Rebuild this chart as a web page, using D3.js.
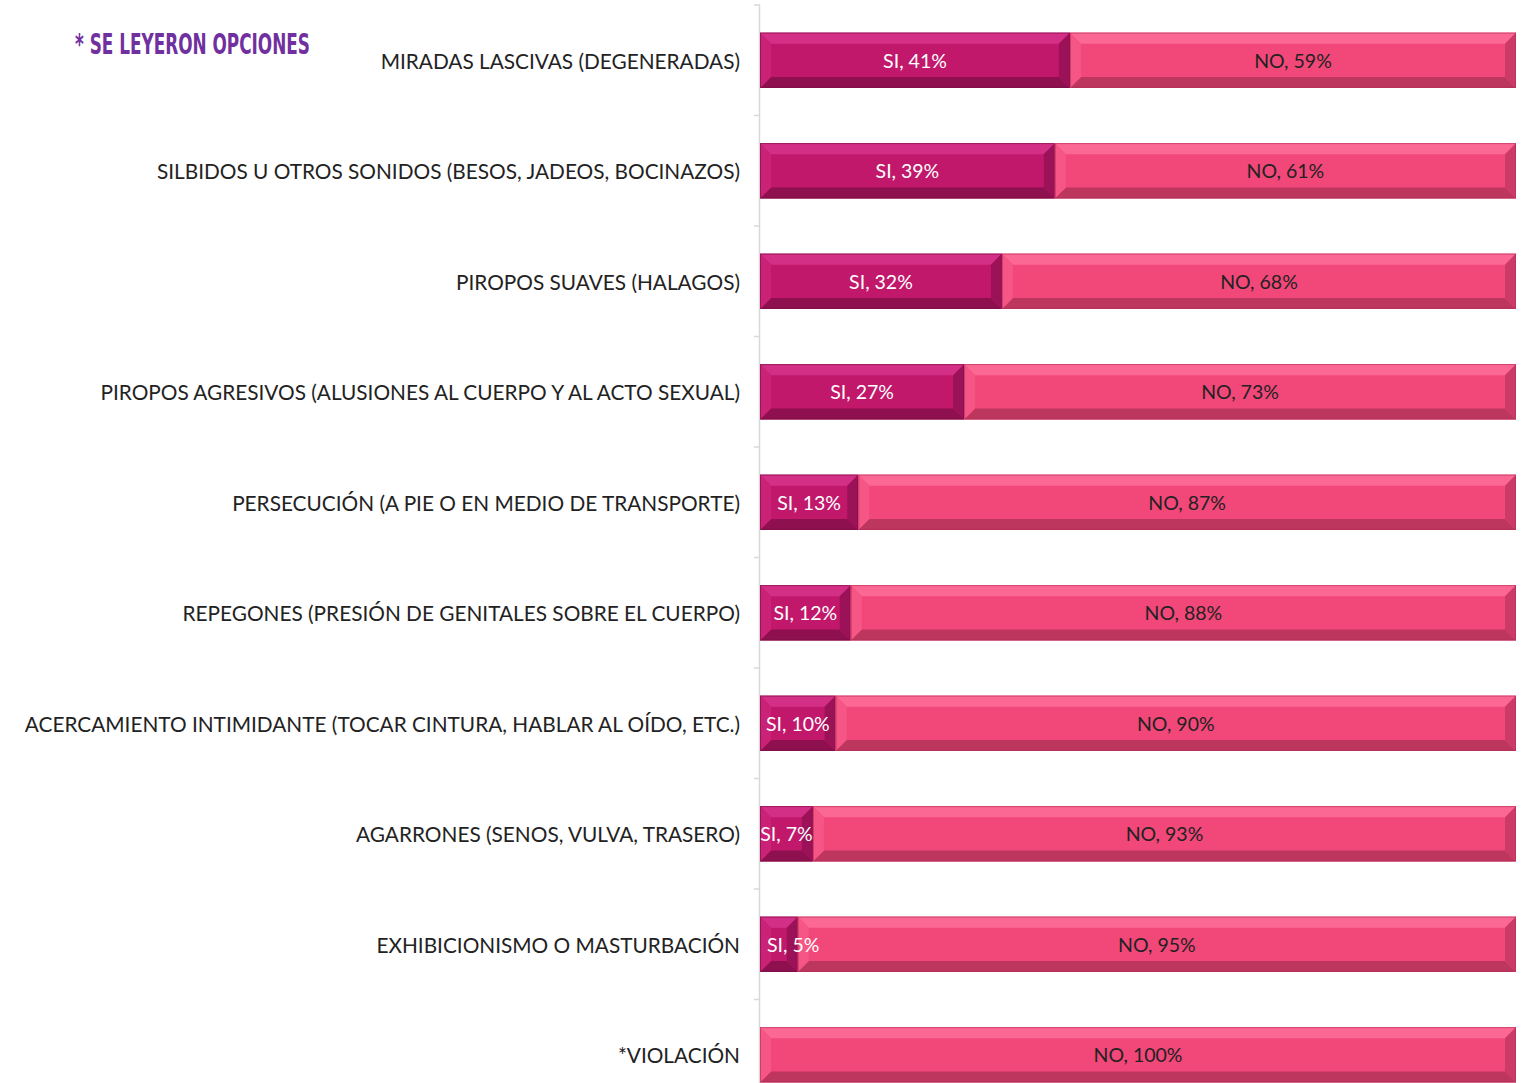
<!DOCTYPE html>
<html>
<head>
<meta charset="utf-8">
<script src="https://cdn.jsdelivr.net/npm/d3@7"></script>
<style>
  body { margin: 0; background: #fff; }
  svg { display: block; }
</style>
</head>
<body>
<div id="container"><svg></svg></div>
<script>
let width = 1522;
let height = 1083;

// categorias y porcentajes
let categories = [
    "MIRADAS LASCIVAS (DEGENERADAS)",
    "SILBIDOS U OTROS SONIDOS (BESOS, JADEOS, BOCINAZOS)",
    "PIROPOS SUAVES (HALAGOS)",
    "PIROPOS AGRESIVOS (ALUSIONES AL CUERPO Y AL ACTO SEXUAL)",
    "PERSECUCIÓN (A PIE O EN MEDIO DE TRANSPORTE)",
    "REPEGONES (PRESIÓN DE GENITALES SOBRE EL CUERPO)",
    "ACERCAMIENTO INTIMIDANTE (TOCAR CINTURA, HABLAR AL OÍDO, ETC.)",
    "AGARRONES (SENOS, VULVA, TRASERO)",
    "EXHIBICIONISMO O MASTURBACIÓN",
    "*VIOLACIÓN"
];
let si_values = [41, 39, 32, 27, 13, 12, 10, 7, 5, 0];
let no_values = [59, 61, 68, 73, 87, 88, 90, 93, 95, 100];
let series_names = ["SI", "NO"];

let margin = {left: 760, right: 6, top: 5};

function draw_graph() {
    let svg = d3.select('#container').select('svg')
        .attr('width', width)
        .attr('height', height);

    let x = d3.scaleLinear().domain([0, 100]).range([margin.left, width - margin.right]);
    let y = d3.scaleBand().domain(categories)
        .range([margin.top, margin.top + 110.5 * categories.length])
        .paddingInner(0.5).paddingOuter(0.25);

    // eje vertical
    svg.append("line")
        .attr("x1", margin.left - 0.5).attr("x2", margin.left - 0.5)
        .attr("y1", margin.top).attr("y2", height)
        .attr("stroke", "#d9d9d9").attr("stroke-width", 1.5);
    let step = y.step();
    svg.append("g").selectAll("line")
        .data(d3.range(categories.length + 1))
        .join("line")
        .attr("x1", margin.left - 6).attr("x2", margin.left)
        .attr("y1", i => margin.top + i * step)
        .attr("y2", i => margin.top + i * step)
        .attr("stroke", "#d9d9d9").attr("stroke-width", 1.5);

    // etiquetas de categorias
    svg.append("g").selectAll("text")
        .data(categories)
        .join("text")
        .attr("x", 740)
        .attr("y", d => y(d) + y.bandwidth() / 2)
        .attr("dy", "0.4em")
        .attr("text-anchor", "end")
        .attr("font-family", "Lato, sans-serif")
        .attr("font-size", 20.8)
        .attr("fill", "#222")
        .text(d => d);

    // segmentos
    let segs = [];
    categories.forEach((c, i) => {
        segs.push({cat: c, s: "SI", x0: 0, x1: si_values[i], v: si_values[i]});
        segs.push({cat: c, s: "NO", x0: si_values[i], x1: si_values[i] + no_values[i], v: no_values[i]});
    });
    segs = segs.filter(d => d.v > 0);

    let colors = {
        SI: {base: "#c1186b", top: "#d42f87", bot: "#8e104e", left: "#c92277", right: "#9c1258"},
        NO: {base: "#f24779", top: "#fc6894", bot: "#bd365e", left: "#f55686", right: "#cc3b68"}
    };
    let b = 11; // bisel

    let g = svg.append("g").selectAll("g")
        .data(segs)
        .join("g");

    g.each(function (d) {
        let el = d3.select(this);
        let x0 = x(d.x0), x1 = x(d.x1), y0 = y(d.cat), y1 = y(d.cat) + y.bandwidth();
        let c = colors[d.s];
        let bb = Math.min(b, (x1 - x0) / 2);
        el.append("rect")
            .attr("x", x0).attr("y", y0)
            .attr("width", x1 - x0).attr("height", y1 - y0)
            .attr("fill", c.base);
        let poly = (pts, fill) => el.append("polygon")
            .attr("points", pts.map(p => p.join(",")).join(" "))
            .attr("fill", fill);
        poly([[x0, y0], [x1, y0], [x1 - bb, y0 + b], [x0 + bb, y0 + b]], c.top);
        poly([[x0, y1], [x1, y1], [x1 - bb, y1 - b], [x0 + bb, y1 - b]], c.bot);
        poly([[x0, y0], [x0 + bb, y0 + b], [x0 + bb, y1 - b], [x0, y1]], c.left);
        poly([[x1, y0], [x1 - bb, y0 + b], [x1 - bb, y1 - b], [x1, y1]], c.right);
        el.append("rect")
            .attr("x", x0 + 0.5).attr("y", y0 + 0.5)
            .attr("width", x1 - x0 - 1).attr("height", y1 - y0 - 1)
            .attr("fill", "none")
            .attr("stroke", d.s == "SI" ? "#7a0d44" : "#b02e57")
            .attr("stroke-opacity", 0.6);
    });

    // etiquetas de datos
    let labels = svg.append("g").selectAll("text")
        .data(segs)
        .join("text")
        .attr("x", d => (x(d.x0) + x(d.x1)) / 2)
        .attr("y", d => y(d.cat) + y.bandwidth() / 2)
        .attr("dy", "0.38em")
        .attr("text-anchor", "middle")
        .attr("font-family", "Lato, sans-serif")
        .attr("font-size", 19.5)
        .attr("fill", d => d.s == "SI" ? "#fff" : "#222")
        .text(d => d.s + ", " + d.v + "%");
    // si la etiqueta no cabe, se alinea a la izquierda
    labels.each(function (d) {
        let w = this.getComputedTextLength();
        let segw = x(d.x1) - x(d.x0);
        if (w > segw + 2) {
            d3.select(this).attr("text-anchor", "start").attr("x", x(d.x0) + 7);
        }
    });

    // nota
    svg.append("text")
        .attr("x", 75).attr("y", 54)
        .attr("font-family", "'DejaVu Sans Condensed', 'DejaVu Sans', sans-serif")
        .attr("font-size", 29)
        .attr("font-weight", "bold")
        .attr("textLength", 235)
        .attr("lengthAdjust", "spacingAndGlyphs")
        .attr("fill", "#7030a0")
        .text("* SE  LEYERON  OPCIONES");
}

draw_graph();
</script>
</body>
</html>
